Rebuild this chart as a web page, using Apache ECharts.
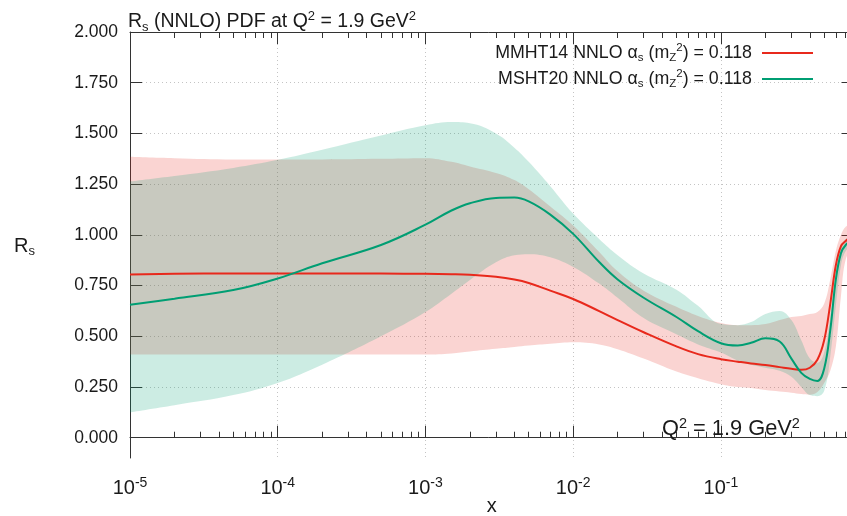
<!DOCTYPE html>
<html><head><meta charset="utf-8">
<script src="https://cdn.jsdelivr.net/npm/echarts@6/dist/echarts.min.js"></script>
<style>html,body{margin:0;padding:0;background:#fff}#c{width:847px;height:516px}</style>
</head><body><div id="c"></div>
<script>
// x positions (momentum fraction)
const xValues = [1e-5, 2e-5, 5e-5, 1e-4, 2e-4, 5e-4, 1e-3, 1.5e-3, 2e-3, 3e-3, 4e-3, 5e-3, 7e-3, 1e-2, 1.5e-2, 2e-2, 3e-2, 5e-2, 7e-2, 0.1, 0.13, 0.16, 0.2, 0.25, 0.3, 0.35, 0.4, 0.45, 0.5, 0.55, 0.6, 0.65, 0.7, 0.79];
// MMHT14 NNLO
const mmhtCentral = [0.805, 0.808, 0.81, 0.81, 0.81, 0.81, 0.808, 0.806, 0.803, 0.793, 0.78, 0.763, 0.725, 0.684, 0.624, 0.58, 0.52, 0.45, 0.412, 0.387, 0.375, 0.366, 0.358, 0.348, 0.34, 0.335, 0.345, 0.384, 0.48, 0.66, 0.85, 0.945, 0.97, 1.0];
const mmhtUpper = [1.385, 1.378, 1.372, 1.372, 1.372, 1.375, 1.378, 1.36, 1.337, 1.305, 1.27, 1.225, 1.14, 1.046, 0.915, 0.82, 0.725, 0.645, 0.60, 0.565, 0.555, 0.555, 0.56, 0.58, 0.595, 0.6, 0.61, 0.62, 0.66, 0.78, 0.92, 1.0, 1.04, 1.06];
const mmhtLower = [0.41, 0.41, 0.41, 0.41, 0.41, 0.41, 0.41, 0.415, 0.425, 0.438, 0.447, 0.454, 0.463, 0.47, 0.46, 0.436, 0.39, 0.326, 0.293, 0.264, 0.25, 0.245, 0.235, 0.228, 0.222, 0.215, 0.212, 0.225, 0.27, 0.33, 0.45, 0.7, 0.88, 0.95];
// MSHT20 NNLO
const mshtCentral = [0.655, 0.685, 0.728, 0.785, 0.86, 0.95, 1.05, 1.12, 1.156, 1.182, 1.184, 1.165, 1.10, 1.005, 0.866, 0.78, 0.69, 0.595, 0.525, 0.466, 0.455, 0.468, 0.49, 0.474, 0.39, 0.32, 0.29, 0.28, 0.34, 0.53, 0.78, 0.91, 0.95, 0.98];
const mshtUpper = [1.263, 1.29, 1.33, 1.37, 1.42, 1.49, 1.54, 1.556, 1.55, 1.50, 1.43, 1.36, 1.24, 1.105, 0.98, 0.90, 0.81, 0.73, 0.65, 0.56, 0.555, 0.57, 0.61, 0.625, 0.58, 0.48, 0.39, 0.37, 0.42, 0.6, 0.82, 0.94, 0.98, 1.0];
const mshtLower = [0.125, 0.16, 0.21, 0.27, 0.36, 0.5, 0.62, 0.71, 0.778, 0.865, 0.90, 0.905, 0.89, 0.842, 0.76, 0.69, 0.59, 0.51, 0.46, 0.42, 0.38, 0.36, 0.345, 0.33, 0.30, 0.25, 0.21, 0.205, 0.23, 0.4, 0.65, 0.85, 0.92, 0.96];
// ticks
const yTicks = [0, 0.25, 0.5, 0.75, 1.0, 1.25, 1.5, 1.75, 2.0];
const xMinorTicks = [2e-5, 3e-5, 4e-5, 5e-5, 6e-5, 7e-5, 8e-5, 9e-5,
  2e-4, 3e-4, 4e-4, 5e-4, 6e-4, 7e-4, 8e-4, 9e-4,
  2e-3, 3e-3, 4e-3, 5e-3, 6e-3, 7e-3, 8e-3, 9e-3,
  2e-2, 3e-2, 4e-2, 5e-2, 6e-2, 7e-2, 8e-2, 9e-2,
  0.2, 0.3, 0.4, 0.5, 0.6, 0.7];

const FONT = '"Liberation Sans", Arial, Helvetica, sans-serif';
const RED = '#e8291c', GREEN = '#009e73', AX = '#333333', TXT = '#1a1a1a';
const pairs = ys => xValues.map((x, i) => [x, ys[i]]);
// rows stored as [y, x] so that the stack acts on the y value
const rowsYX = ys => xValues.map((x, i) => [ys[i], x]);
const diffYX = (up, lo) => xValues.map((x, i) => [up[i] - lo[i], x]);

const chart = echarts.init(document.getElementById('c'), null, {renderer: 'canvas'});
const xCommon = {type: 'log', logBase: 10, min: 1e-5, max: 0.79, gridIndex: 0};
const gridLine = {show: true, lineStyle: {color: '#c4c4c4', width: 1, type: [1, 3]}};
const smooth = 0.4;
const bandBase = {type: 'line', symbol: 'none', smooth: smooth, silent: true,
  encode: {x: 1, y: 0}, lineStyle: {opacity: 0, width: 0}};
const txt = (size, lh, extra) => Object.assign({fontSize: size, lineHeight: lh, color: TXT, fontFamily: FONT, fontWeight: 'normal'}, extra || {});

chart.setOption({
  animation: false,
  backgroundColor: '#fff',
  textStyle: {fontFamily: FONT},
  title: [{
    left: 128, top: 10, padding: 0,
    text: '{n|R}{sub|s}{n| (NNLO) PDF at Q}{sup|2}{n| = 1.9 GeV}{sup|2}',
    textStyle: {fontWeight: 'normal', rich: {
      n: txt(19.5, 24),
      sub: txt(13, 13, {verticalAlign: 'bottom'}),
      sup: txt(13, 13, {verticalAlign: 'top'})
    }}
  }, {
    left: 662, top: 416, padding: 0,
    text: '{n|Q}{sup|2}{n| = 1.9 GeV}{sup|2}',
    textStyle: {fontWeight: 'normal', rich: {
      n: txt(21.8, 26),
      sup: txt(14.5, 14, {verticalAlign: 'top'})
    }}
  }],
  legend: {
    orient: 'vertical', right: 34, top: 42, padding: 0, itemGap: 4,
    align: 'right', icon: 'rect', itemWidth: 51, itemHeight: 2, selectedMode: false,
    data: ['MMHT14', 'MSHT20'],
    formatter: name => '{t|' + name + ' NNLO }{t|α}{sub|s}{t| (m}{sub|Z}{sup|2}{e|) = 0.118}',
    textStyle: {rich: {
      t: txt(17.8, 22),
      e: txt(17.8, 22, {padding: [0, 5, 0, 0]}),
      sub: txt(11.5, 11, {verticalAlign: 'bottom'}),
      sup: txt(11.5, 11, {verticalAlign: 'top'})
    }}
  },
  grid: {left: 130, top: 32, right: -6.5, bottom: 58, containLabel: false, outerBoundsMode: 'none'},
  xAxis: [
    Object.assign({}, xCommon, {
      position: 'bottom',
      axisLine: {show: true, lineStyle: {color: AX, width: 1}},
      axisTick: {show: true, inside: true, length: 12, lineStyle: {color: AX}},
      splitLine: gridLine,
      axisLabel: {
        show: true, margin: 18, color: TXT,
        formatter: v => {
          const l = Math.log10(v), e = Math.round(l);
          if (Math.abs(l - e) > 1e-6) return '';
          return '{b|10}{e|' + e + '}';
        },
        rich: {
          b: txt(20, 24),
          e: txt(14, 14, {verticalAlign: 'top'})
        }
      },
      name: 'x', nameLocation: 'middle', nameGap: 38, nameMoveOverlap: false,
      nameTextStyle: {fontSize: 20, lineHeight: 20, color: TXT, fontFamily: FONT, verticalAlign: 'top'}
    }),
    Object.assign({}, xCommon, {
      position: 'bottom',
      axisLine: {show: false},
      axisTick: {show: true, inside: true, length: 6, customValues: xMinorTicks, lineStyle: {color: AX}},
      axisLabel: {show: false}, splitLine: {show: false}
    }),
    Object.assign({}, xCommon, {
      position: 'top',
      axisLine: {show: true, lineStyle: {color: AX, width: 1}},
      axisTick: {show: true, inside: true, length: 12, lineStyle: {color: AX}},
      axisLabel: {show: false}, splitLine: {show: false}
    }),
    Object.assign({}, xCommon, {
      position: 'top',
      axisLine: {show: false},
      axisTick: {show: true, inside: true, length: 6, customValues: xMinorTicks, lineStyle: {color: AX}},
      axisLabel: {show: false}, splitLine: {show: false}
    })
  ],
  yAxis: [{
    type: 'value', min: -0.1, max: 2.0, position: 'left',
    axisLine: {show: true, lineStyle: {color: AX, width: 1}},
    axisTick: {show: true, inside: true, length: 12, customValues: yTicks, lineStyle: {color: AX}},
    axisLabel: {show: true, customValues: yTicks, margin: 12, fontSize: 17.5, color: TXT, fontFamily: FONT,
      formatter: v => v.toFixed(3)},
    splitLine: gridLine,
    name: '{r|R}{s|s}', nameLocation: 'middle', nameRotate: 0, nameGap: 95, nameMoveOverlap: false,
    nameTextStyle: {padding: [2, 0, 0, 0], rich: {
      r: txt(20, 24),
      s: txt(13, 13, {verticalAlign: 'bottom'})
    }}
  }, {
    type: 'value', min: -0.1, max: 2.0, position: 'right',
    axisLine: {show: true, lineStyle: {color: AX, width: 1}},
    axisTick: {show: true, inside: true, length: 12, customValues: yTicks, lineStyle: {color: AX}},
    axisLabel: {show: false}, splitLine: {show: false}
  }],
  series: [
    Object.assign({}, bandBase, {name: 'mmhtLo', stack: 'mmht', data: rowsYX(mmhtLower), z: 1}),
    Object.assign({}, bandBase, {name: 'mmhtBand', stack: 'mmht', data: diffYX(mmhtUpper, mmhtLower), z: 1,
      areaStyle: {color: RED, opacity: 0.2}}),
    Object.assign({}, bandBase, {name: 'mshtLo', stack: 'msht', data: rowsYX(mshtLower), z: 2}),
    Object.assign({}, bandBase, {name: 'mshtBand', stack: 'msht', data: diffYX(mshtUpper, mshtLower), z: 2,
      areaStyle: {color: GREEN, opacity: 0.2}}),
    {name: 'MMHT14', type: 'line', data: pairs(mmhtCentral), symbol: 'none', smooth: smooth,
      lineStyle: {color: RED, width: 2}, itemStyle: {color: RED}, z: 3},
    {name: 'MSHT20', type: 'line', data: pairs(mshtCentral), symbol: 'none', smooth: smooth,
      lineStyle: {color: GREEN, width: 2}, itemStyle: {color: GREEN}, z: 4}
  ]
});
</script></body></html>
